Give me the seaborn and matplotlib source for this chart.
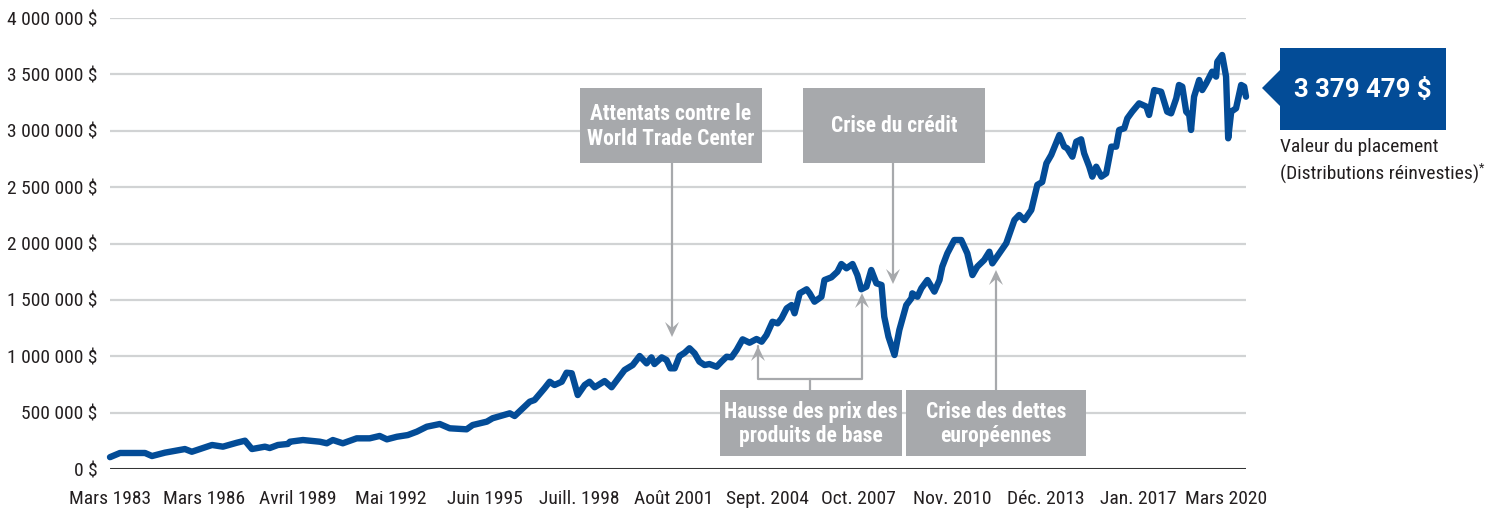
import matplotlib
matplotlib.use("Agg")
import matplotlib.pyplot as plt
import seaborn as sns
from matplotlib.patches import Rectangle, Polygon
from matplotlib.lines import Line2D
from matplotlib.ticker import FuncFormatter

# values (decimal year, portfolio value in $ thousands)
years = [
    1983.17, 1983.50, 1984.33, 1984.56, 1984.99, 1985.65, 1985.88, 1986.55, 1986.91,
    1987.37, 1987.64, 1987.87, 1988.30, 1988.46, 1988.73, 1989.06, 1989.13, 1989.56,
    1990.12, 1990.35, 1990.55, 1990.88, 1991.34, 1991.77, 1992.10, 1992.34, 1992.67,
    1993.03, 1993.33, 1993.66, 1994.09, 1994.42, 1994.98, 1995.18, 1995.65, 1995.84,
    1996.41, 1996.57, 1997.07, 1997.23, 1997.56, 1997.73, 1997.89, 1998.13, 1998.29,
    1998.46, 1998.66, 1998.89, 1999.05, 1999.22, 1999.55, 1999.78, 1999.98, 2000.21,
    2000.48, 2000.71, 2000.94, 2001.10, 2001.20, 2001.44, 2001.60, 2001.73, 2001.87,
    2002.03, 2002.20, 2002.36, 2002.53, 2002.69, 2002.86, 2003.02, 2003.26, 2003.42,
    2003.59, 2003.75, 2003.92, 2004.12, 2004.35, 2004.58, 2004.75, 2004.91, 2005.11,
    2005.28, 2005.41, 2005.58, 2005.74, 2005.84, 2006.01, 2006.24, 2006.34, 2006.50,
    2006.73, 2006.83, 2007.06, 2007.26, 2007.39, 2007.56, 2007.76, 2007.92, 2008.05,
    2008.22, 2008.38, 2008.55, 2008.72, 2008.81, 2008.95, 2009.15, 2009.31, 2009.54,
    2009.71, 2009.74, 2009.91, 2010.04, 2010.24, 2010.47, 2010.64, 2010.73, 2010.90,
    2011.13, 2011.36, 2011.56, 2011.73, 2011.89, 2012.12, 2012.29, 2012.39, 2012.62,
    2012.85, 2013.12, 2013.28, 2013.45, 2013.68, 2013.88, 2014.04, 2014.18, 2014.34,
    2014.61, 2014.77, 2014.87, 2015.04, 2015.17, 2015.33, 2015.43, 2015.60, 2015.70,
    2015.83, 2016.00, 2016.16, 2016.33, 2016.49, 2016.59, 2016.76, 2016.86, 2017.02,
    2017.25, 2017.49, 2017.58, 2017.75, 2017.98, 2018.18, 2018.31, 2018.48, 2018.57,
    2018.68, 2018.81, 2018.91, 2018.97, 2019.07, 2019.24, 2019.34, 2019.47, 2019.67,
    2019.80, 2019.84, 2020.00, 2020.13, 2020.20, 2020.30, 2020.46, 2020.63, 2020.73,
    2020.79,
]
values_k = [
    105, 142, 142, 115, 145, 177, 153, 213, 198,
    233, 251, 177, 198, 186, 213, 222, 242, 257,
    242, 228, 257, 228, 272, 272, 293, 263, 286,
    301, 331, 375, 399, 361, 352, 390, 420, 450,
    494, 470, 597, 612, 716, 774, 745, 774, 854,
    849, 656, 745, 774, 725, 780, 725, 796, 878,
    922, 1002, 937, 990, 931, 990, 967, 893, 893,
    1002, 1031, 1071, 1026, 952, 922, 931, 907, 952,
    996, 990, 1055, 1150, 1120, 1153, 1129, 1188, 1306,
    1292, 1336, 1425, 1454, 1381, 1558, 1594, 1558, 1484,
    1528, 1676, 1700, 1750, 1818, 1780, 1818, 1720, 1594,
    1617, 1765, 1647, 1632, 1351, 1173, 1011, 1233, 1454,
    1514, 1558, 1528, 1603, 1676, 1573, 1676, 1794, 1913,
    2031, 2031, 1913, 1720, 1794, 1854, 1927, 1824, 1913,
    2002, 2208, 2253, 2208, 2297, 2520, 2545, 2711, 2785,
    2962, 2859, 2844, 2770, 2903, 2924, 2800, 2681, 2593,
    2681, 2593, 2622, 2859, 2859, 3007, 3022, 3110, 3169,
    3243, 3214, 3140, 3361, 3346, 3169, 3154, 3287, 3406,
    3391, 3169, 3140, 3007, 3302, 3450, 3361, 3420, 3524,
    3480, 3612, 3672, 3480, 2933, 3169, 3199, 3406, 3391,
    3302,
]

tick_years = [1983.17, 1986.28, 1989.39, 1992.46, 1995.60, 1998.71, 2001.82,
              2004.93, 2007.97, 2011.05, 2014.16, 2017.24, 2020.13]
tick_labels = ["Mars 1983", "Mars 1986", "Avril 1989", "Mai 1992", "Juin 1995",
               "Juill. 1998", "Août 2001", "Sept. 2004", "Oct. 2007", "Nov. 2010",
               "Déc. 2013", "Jan. 2017", "Mars 2020"]
y_ticks = [0, 500000, 1000000, 1500000, 2000000, 2500000, 3000000, 3500000, 4000000]

final_label = "3 379 479 $"

BLUE = "#034c97"
GREY = "#a7a9ac"
TXT = "#231f20"
W, H = 1494, 512
COND = ["Roboto Condensed", "Liberation Sans", "DejaVu Sans"]

sns.set_theme(style="white")
plt.rcParams["font.family"] = COND

fig = plt.figure(figsize=(W / 100, H / 100), dpi=100)
ax = fig.add_axes([110 / W, 43 / H, (1246 - 110) / W, (469 - 18) / H])

values = [v * 1000 for v in values_k]
sns.lineplot(x=years, y=values, ax=ax, color=BLUE, linewidth=4.6,
             sort=False, clip_on=False, solid_joinstyle="round", solid_capstyle="round")

ax.set_xlim(1983.17, 2020.79)
ax.set_ylim(0, 4000000)
ax.set_yticks(y_ticks)
ax.yaxis.set_major_formatter(FuncFormatter(lambda v, p: f"{int(v):,}".replace(",", " ") + " $"))
ax.set_xticks(tick_years)
ax.set_xticklabels(tick_labels)
ax.tick_params(axis="both", length=0, labelsize=14, labelcolor=TXT)
ax.tick_params(axis="x", pad=15)
ax.tick_params(axis="y", pad=9)
ax.yaxis.grid(True, color="#d1d3d4", linewidth=1.6)
ax.set_axisbelow(True)
for s in ax.spines.values():
    s.set_visible(False)
ax.axhline(0, color="black", linewidth=1.8, zorder=1)


def fx(x, y):
    return x / W, 1 - y / H


def box(x0, y0, x1, y1, lines, color=GREY, size=15.5, family=None):
    fig.add_artist(Rectangle(fx(x0, y1), (x1 - x0) / W, (y1 - y0) / H,
                             transform=fig.transFigure, facecolor=color,
                             edgecolor="none"))
    fig.text(*fx((x0 + x1) / 2, (y0 + y1) / 2 + 1), "\n".join(lines), ha="center",
             va="center", color="white", fontsize=size, fontweight="bold",
             linespacing=1.15, family=family or COND)


def seg(pts):
    xs = [p[0] / W for p in pts]
    ys = [1 - p[1] / H for p in pts]
    fig.add_artist(Line2D(xs, ys, transform=fig.transFigure, color=GREY, linewidth=1.6))


def head(x, y, up):
    d = 1 if up else -1
    pts = [(x, y), (x - 7, y + d * 15), (x, y + d * 9), (x + 7, y + d * 15)]
    fig.add_artist(Polygon([fx(*p) for p in pts], closed=True, transform=fig.transFigure,
                           facecolor=GREY, edgecolor="none"))


# annotation boxes and arrows
box(580, 88, 762, 163, ["Attentats contre le", "World Trade Center"])
seg([(672, 163), (672, 330)])
head(672, 337, up=False)

box(803, 88, 985, 163, ["Crise du crédit"])
seg([(893, 163), (893, 277)])
head(893, 284, up=False)

box(720, 390, 902, 456, ["Hausse des prix des", "produits de base"])
seg([(810, 390), (810, 379)])
seg([(758, 346), (758, 379), (862, 379), (862, 300)])
head(758, 346, up=True)
head(862, 293, up=True)

box(906, 390, 1086, 456, ["Crise des dettes", "européennes"])
seg([(996, 390), (996, 276)])
head(996, 270, up=True)

# final value callout
fig.add_artist(Polygon([fx(1262, 88), fx(1281, 69), fx(1281, 107)], closed=True,
                       transform=fig.transFigure, facecolor=BLUE, edgecolor="none"))
box(1280, 48, 1446, 130, [final_label], color=BLUE, size=18.5,
    family=["Roboto", "DejaVu Sans"])
fig.text(*fx(1280, 147), "Valeur du placement", ha="left", va="center",
         fontsize=14, color=TXT)
t = fig.text(*fx(1280, 174), "(Distributions réinvesties)", ha="left", va="center",
             fontsize=14, color=TXT)
ax.annotate("*", xy=(1, 1), xycoords=t, xytext=(0, 2), textcoords="offset points",
            ha="left", va="top", fontsize=9, color=TXT)

fig.savefig("out.png", dpi=100)
